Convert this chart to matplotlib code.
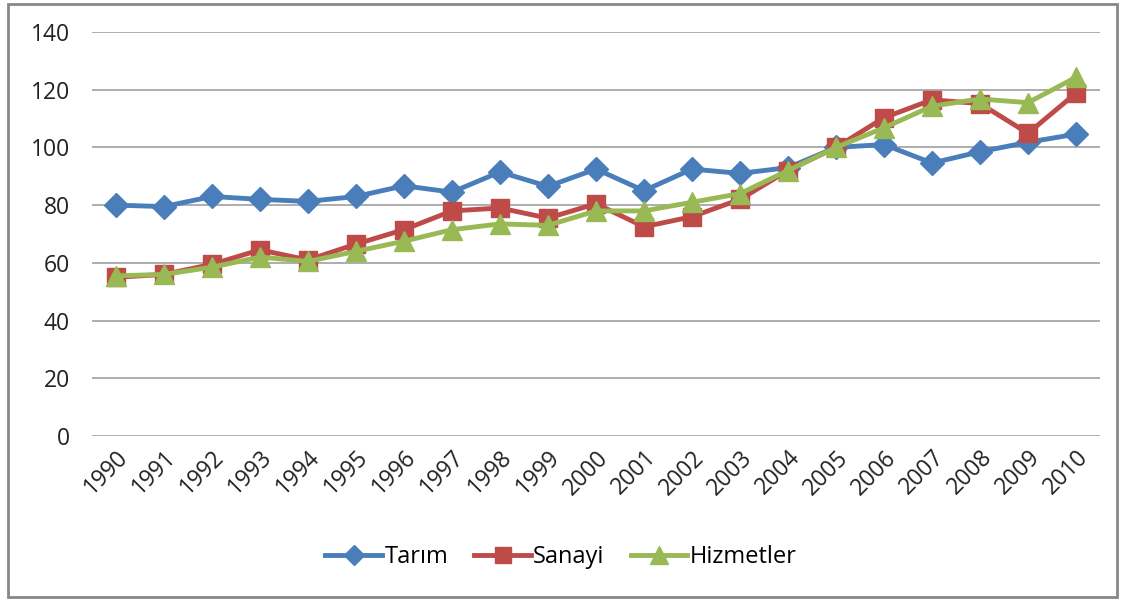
import matplotlib.pyplot as plt
from matplotlib.patches import Rectangle

years = [str(y) for y in range(1990, 2011)]
tarim = [80, 79.5, 83, 82, 81.3, 83, 86.7, 84.5, 91.5, 86.5, 92.5, 85, 92.5, 91, 93, 100, 101, 94.6, 98.5, 101.8, 104.6]
sanayi = [55, 56, 59.5, 64.5, 61, 66.5, 71.5, 78, 79, 75.5, 80.5, 72.5, 76, 82, 92, 100, 110.3, 116.5, 115.2, 104.9, 118.8]
hizmetler = [55.5, 56, 58.5, 62, 60.5, 64, 67.5, 71.5, 73.5, 73, 78, 78, 81, 84, 92, 100, 106.8, 114.3, 116.8, 115.5, 124.3]

plt.rcParams.update({'font.size': 16, 'font.family': ['Open Sans', 'DejaVu Sans']})

fig = plt.figure(figsize=(11.22, 6.01), dpi=100)
ax = fig.add_axes([92 / 1122, 1 - 436 / 601, 1008 / 1122, 404 / 601])

x = range(len(years))
ax.plot(x, tarim, color='#4A7EBB', lw=3.5, marker='D', ms=12, label='Tarım')
ax.plot(x, sanayi, color='#BE4B48', lw=3.5, marker='s', ms=13, label='Sanayi')
ax.plot(x, hizmetler, color='#98B954', lw=3.5, marker='^', ms=15, label='Hizmetler')

ax.set_ylim(0, 140)
ax.set_yticks(range(0, 141, 20))
ax.set_xlim(-0.5, len(years) - 0.5)
ax.set_xticks(list(x))
ax.set_xticklabels(years, rotation=45, ha='right', rotation_mode='anchor')
ax.grid(axis='y', color='#A0A0A0', lw=1.2)
ax.set_axisbelow(True)
for s in ax.spines.values():
    s.set_visible(False)
ax.tick_params(length=0, colors='#222222', labelsize=16.5)
ax.tick_params(axis='y', pad=16)
ax.tick_params(axis='x', pad=7)

fig.legend(loc='center', bbox_to_anchor=(0.5, 1 - 557 / 601), ncol=3, frameon=False,
           handlelength=2.4, columnspacing=1.1, handletextpad=0.1, fontsize=17, markerscale=0.85)

fig.patches.append(Rectangle((8 / 1122, 4 / 601), 1109 / 1122, 593 / 601, transform=fig.transFigure,
                             fill=False, edgecolor='#888888', lw=2))

fig.savefig('out.png', dpi=100)
